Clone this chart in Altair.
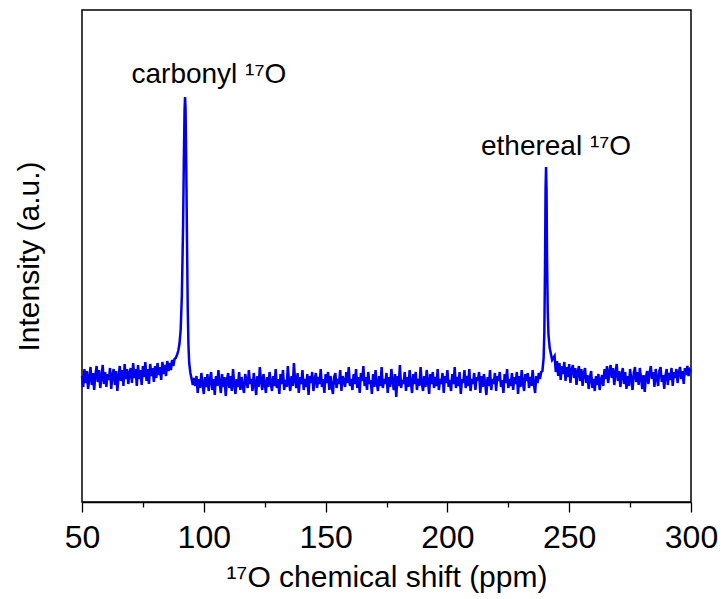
import altair as alt
import pandas as pd

# ---- data (intensity in arbitrary units, baseline ~0) ----
# baseline segment 50.0 .. 88.0 ppm, step 0.5
seg1_start = 50.0
seg1 = [4, -7, 11, -3, 9, -9, 2, 13, -5, 7, -10, 5, 14, -2, 10, -8, 3, 15, -4, 8,
        -7, 6, 0, 12, -9, 5, 11, -5, 9, -11, 3, 14, -1, 10, -6, 16, 1, 11, -4, 7,
        12, -3, 17, 2, 11, -6, 15, 1, 10, -5, 14, 3, 18, -1, 11, -4, 16, 4, 12, -2,
        14, 2, 17, 5, 13, 0, 18, 6, 15, 4, 19, 9, 17, 10, 20, 14,
        21]

# carbonyl peak
peak1_x = [88.5, 89.0, 89.5, 90.0, 90.5, 91.0, 91.5, 91.8, 92.1, 92.3, 92.5, 92.8,
           93.1, 93.4, 93.7, 94.0, 94.5, 95.0, 95.5, 96.0]
peak1_y = [22, 25, 29, 36, 50, 85, 155, 218, 270, 283, 272, 215,
           140, 72, 35, 17, 7, 1, -5, 2]

# baseline segment 96.5 .. 238.5 ppm, step 0.5
seg2_start = 96.5
seg2 = [-6, 4, -13, 1, -8, 7, -4, -14, 3, -7, 6, -11, 0, 8, -10, 1, -15, 4, -6, 10,
        -3, -13, 6, -7, 3, -16, 0, 7, -8, 4, -11, 11, -4, -14, 1, -7, 8, -10, 3, -6,
        -13, 6, -1, -8, 10, -4, 1, -11, 7, -3, -15, 4, -7, 13, -1, -10, 6, -4, -13, 3,
        -7, 8, -3, -11, 4, -6, 11, -8, 1, -14, 6, -4, 10, -10, 0, -7, 14, -3, -11, 4,
        -6, 17, -1, -8, 7, -13, 3, -4, 10, -10, 1, -7, 6, -15, 4, -3, 8, -11, 0, 7,
        -8, 3, -4, 11, -7, 1, -13, 6, -3, 8, -10, 4, -6, -14, 3, 7, -8, 1, -4, 10,
        -11, 4, -1, -7, 8, -3, 13, -6, 1, -10, 6, -4, 11, -8, 3, -13, 7, -1, 14, -6,
        3, -10, 8, -4, 0, -14, 6, -7, 10, -3, -11, 4, -6, 13, -8, 1, -4, 7, -13, 3,
        -7, 11, -1, -10, 6, -17, 4, -6, 15, -8, 0, -4, 8, -11, 3, -7, 10, -3, -13, 6,
        -4, 8, -10, 1, -6, 13, -3, -11, 4, -7, 10, -1, -14, 6, -4, 8, -8, 3, -6, 11,
        -10, 1, -4, 7, -13, 4, -3, 10, -7, 0, -11, 6, -4, 13, -8, 3, -6, 8, -14, 1,
        -3, 10, -8, 4, -6, 11, -11, 1, -4, 7, -10, 3, -1, 8, -13, 4, -7, 6, -3, -15,
        3, -6, 10, -10, 1, -4, 7, -11, 4, -1, 8, -7, 0, -13, 6, -3, 11, -8, 1, -6,
        7, -10, 3, -4, 8, -14, 4, -7, 10, -3, -11, 6, -1, 7, -8, 3, -6, 10, -4, -13,
        4, -3, 7, 1, 8]

# ethereal peak
peak2_x = [239.0, 239.5, 239.8, 240.1, 240.3, 240.5, 240.7, 240.9, 241.2, 241.5,
           242.0, 242.5, 243.0, 243.5]
peak2_y = [9, 22, 48, 122, 192, 213, 190, 122, 68, 45, 32, 26, 20, 22]

# baseline segment 244.0 .. 300.0 ppm, step 0.5
seg3_start = 244.0
seg3 = [24, 8, 19, 4, 17, 0, 14, 6, 18, -1, 13, 3, 16, -3, 10, 15, 2, 12, -5, 8,
        14, -1, 11, -6, 7, 12, -3, 5, -9, 2, 9, -8, 1, -11, 4, -5, 6, -10, 0, 5,
        -6, 11, 1, 14, -3, 8, 15, 2, 12, -5, 7, 16, -1, 9, -7, 5, 12, -4, 8, -9,
        4, -6, 11, 0, -10, 7, 13, -2, 8, -5, 12, 2, -9, 5, -12, 3, 9, -4, 7, 14,
        1, 8, -7, 11, 2, -6, 9, 13, -2, 5, -9, 4, 11, -5, 7, 0, 12, -6, 8, 2,
        11, -3, 7, 13, 1, 9, -4, 12, 5, 14, 4, 10, 8]

STEP = 0.5

labels_text = ["carbonyl ¹⁷O", "ethereal ¹⁷O"]
labels_x = [102.1, 244.6]
labels_y = [297, 225]

major_ticks = [50, 100, 150, 200, 250, 300]
minor_ticks = [75, 125, 175, 225, 275]

# ---- assemble table ----
xs, ys = [], []
for start, seg in [(seg1_start, seg1), (seg2_start, seg2), (seg3_start, seg3)]:
    for i, v in enumerate(seg):
        xs.append(start + STEP * i)
        ys.append(v)
xs += peak1_x + peak2_x
ys += peak1_y + peak2_y
df = pd.DataFrame({"ppm": xs, "intensity": ys}).sort_values("ppm").reset_index(drop=True)
df["order"] = range(len(df))

lab = pd.DataFrame({"ppm": labels_x, "intensity": labels_y, "text": labels_text})

xscale = alt.Scale(domain=[50, 300], nice=False, zero=False)
yscale = alt.Scale(domain=[-122, 370], nice=False, zero=False)

y_axis = alt.Axis(title="Intensity (a.u.)", labels=False, ticks=False, domain=False,
                  grid=False, titleFontSize=30, titleFont="Liberation Sans",
                  titleFontWeight="normal", titlePadding=38, titleColor="black")

line = alt.Chart(df).mark_line(color="#0000ee", strokeWidth=2.5).encode(
    x=alt.X("ppm:Q", scale=xscale,
            axis=alt.Axis(values=major_ticks, title="¹⁷O chemical shift (ppm)",
                          orient="bottom", tickSize=10, tickColor="black",
                          tickWidth=1.3, domainColor="black", domainWidth=1.5,
                          labelFont="Liberation Sans", labelFontSize=32,
                          labelColor="black", labelPadding=10,
                          titleFont="Liberation Sans", titleFontSize=30,
                          titleFontWeight="normal", titleColor="black",
                          titlePadding=9, grid=False, labelFlush=False)),
    y=alt.Y("intensity:Q", scale=yscale, axis=y_axis),
    order="order:Q",
)

text = alt.Chart(lab).mark_text(font="Liberation Sans", fontSize=28, color="black",
                                align="center", baseline="alphabetic").encode(
    x=alt.X("ppm:Q", scale=xscale,
            axis=alt.Axis(values=minor_ticks, orient="bottom", labels=False,
                          title=None, tickSize=5, tickColor="black", tickWidth=1.3,
                          domain=False, grid=False)),
    y=alt.Y("intensity:Q", scale=yscale, axis=y_axis),
    text="text:N",
)

chart = alt.layer(line, text).resolve_axis(x="independent").properties(
    width=609, height=492,
    autosize=alt.AutoSizeParams(type="none"),
    padding={"left": 82, "top": 10, "right": 35, "bottom": 97},
    background="white",
).configure_view(stroke="black", strokeWidth=1.5)

chart.save("out.html", embed_options={"renderer": "svg", "actions": False})
